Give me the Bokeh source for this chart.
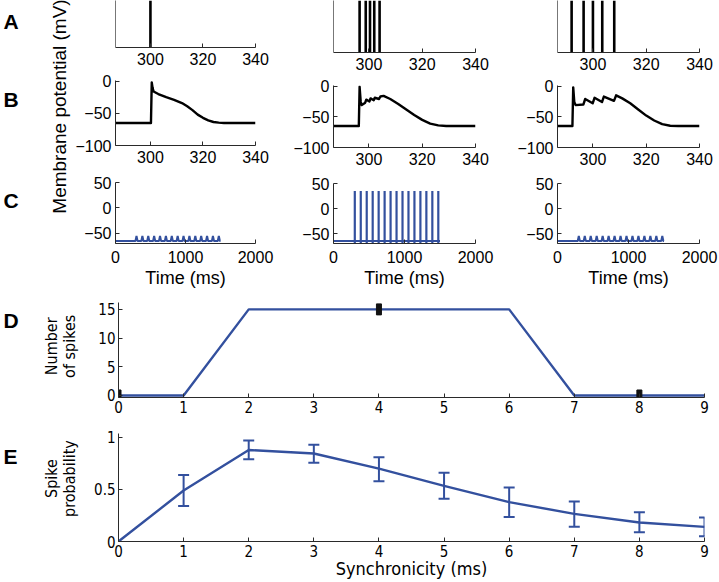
from bokeh.plotting import figure
from bokeh.layouts import row, column
from bokeh.models import Range1d, FixedTicker, Label, Whisker, TeeHead, ColumnDataSource
from bokeh.embed import file_html
from bokeh.resources import INLINE

# ---------------- data ----------------
# A: input arrival times (ms) for synchronicity 0, 4, 8 ms
a_times_sync0 = [300.0]
a_times_sync4 = [296.5, 298.8, 300.4, 302.0, 304.0]
a_times_sync8 = [292.0, 296.5, 300.0, 303.5, 308.0]

# B: membrane potential traces (ms, mV)
b_t_sync0 = [286.7, 300.2, 300.5, 300.8, 301.2, 303, 306, 309, 312, 314, 316, 318, 320, 322, 324, 326, 328, 332, 340]
b_v_sync0 = [-65, -65, -2, -10, -16, -20, -25, -29, -34, -39, -45, -52, -57, -61, -63.5, -64.5, -65, -65, -65]

b_t_sync4 = [286.7, 296.2, 296.5, 296.9, 297.3, 298.6, 299.0, 300.2, 300.6, 301.8, 302.2, 303.8, 304.3, 305.5, 308, 311, 314, 317, 320, 323, 326, 329, 340]
b_v_sync4 = [-65, -65, -1, -25, -31, -27, -22, -25, -20, -23, -19, -21, -17, -16, -21, -29, -38, -47, -55, -61, -64, -65, -65]

b_t_sync8 = [286.7, 292.3, 292.6, 293.0, 293.5, 296.4, 297.1, 299.9, 300.6, 303.4, 304.1, 307.9, 308.7, 311, 314, 317, 320, 323, 326, 329, 332, 340]
b_v_sync8 = [-65, -65, -2, -26, -31, -30, -21, -28, -19, -26, -17, -24, -15, -20, -28, -38, -48, -56, -62, -64.5, -65, -65]

# C: stimulus times (ms) of the 1.5 s trains
c_input_times = [300, 384, 468, 552, 636, 720, 804, 888, 972, 1056, 1140, 1224, 1308, 1392, 1476]
c_end_time = 1500
c_rest = -65
c_spike_peak = 35
c_spike_trough = -69
c_psp_peak = -55

# D: number of output spikes vs synchronicity
sync = [0, 1, 2, 3, 4, 5, 6, 7, 8, 9]
n_spikes = [0, 0, 15, 15, 15, 15, 15, 0, 0, 0]
marked_sync = [0, 4, 8]
marked_spikes = [0, 15, 0]

# E: spike probability (mean and error bar ends)
prob_mean = [0.0, 0.49, 0.88, 0.846, 0.70, 0.535, 0.378, 0.266, 0.183, 0.141]
prob_upper = [0.0, 0.64, 0.97, 0.93, 0.81, 0.66, 0.52, 0.385, 0.28, 0.23]
prob_lower = [0.0, 0.34, 0.79, 0.757, 0.58, 0.41, 0.235, 0.141, 0.09, 0.05]

# ---------------- style ----------------
BLUE = "#33509e"
AXIS = "#2a2a2a"
FONT = "Liberation Sans"
NARROW = "DejaVu Sans Condensed"
TOTAL_W = 719


def make_fig(w, h, xr, yr, bl, br, bt, bb, font=FONT, fsize="16px"):
    p = figure(width=w, height=h, x_range=Range1d(*xr), y_range=Range1d(*yr),
               output_backend="svg", toolbar_location=None, title=None,
               min_border_left=bl, min_border_right=br,
               min_border_top=bt, min_border_bottom=bb)
    p.grid.visible = False
    p.outline_line_color = None
    p.background_fill_color = "white"
    p.border_fill_color = "white"
    for ax in p.axis:
        ax.major_tick_in = 4
        ax.major_tick_out = 0
        ax.minor_tick_line_color = None
        ax.axis_line_color = AXIS
        ax.axis_line_width = 1
        ax.major_tick_line_color = AXIS
        ax.major_label_text_font = font
        ax.major_label_text_font_size = fsize
        ax.major_label_text_color = "black"
        ax.axis_label_text_font_style = "normal"
        ax.axis_label_text_color = "black"
    p.xaxis.major_label_standoff = 5
    p.yaxis.major_label_standoff = 4
    return p


def blank_fig(w, h):
    f = figure(width=w, height=h, x_range=Range1d(0, w), y_range=Range1d(0, h),
               output_backend="svg", toolbar_location=None, title=None,
               x_axis_type=None, y_axis_type=None,
               min_border_left=0, min_border_right=0, min_border_top=0, min_border_bottom=0)
    f.grid.visible = False
    f.outline_line_color = None
    f.background_fill_color = "white"
    f.border_fill_color = "white"
    return f


def letter(f, x, y, txt):
    f.add_layout(Label(x=x, y=y, text=txt, text_font=FONT, text_font_style="bold",
                       text_font_size="21px", text_align="left", text_baseline="middle",
                       text_color="black"))


def vtext(f, x, y, txt, font, size):
    f.add_layout(Label(x=x, y=y, text=txt, text_font=font, text_font_size=size, angle=90,
                       angle_units="deg", text_align="center", text_baseline="middle",
                       text_color="black"))


XR_AB = (286.7, 340)
XR_C = (0, 2000)
YR_B = (-100, 1)
YR_C = (-70, 50)
minus = {-50: "\u221250", -100: "\u2212100"}

TOP_H = 290   # rows A-C
STRIP_W = 72  # left label strip for A-C

# column geometry: figure x, width, frame left, heights / borders
cols = [
    dict(x=72, w=218, fx=113, fw=142, hA=71, fA=47, hB=99, tB=9, fB=65, hC=120, tC=12, fC=61,
         a=a_times_sync0, bt=b_t_sync0, bv=b_v_sync0, kind="psp"),
    dict(x=290, w=223, fx=333, fw=142, hA=76, fA=52, hB=96, tB=9, fB=62, hC=118, tC=11, fC=62,
         a=a_times_sync4, bt=b_t_sync4, bv=b_v_sync4, kind="spike"),
    dict(x=513, w=206, fx=557, fw=142, hA=76, fA=52, hB=96, tB=9, fB=62, hC=118, tC=11, fC=62,
         a=a_times_sync8, bt=b_t_sync8, bv=b_v_sync8, kind="psp"),
]

col_layouts = []
for c in cols:
    bl = c["fx"] - c["x"]
    br = c["w"] - bl - c["fw"]
    # ---- A: input raster ----
    pa = make_fig(c["w"], c["hA"], XR_AB, (0, 1), bl, br, 0, c["hA"] - c["fA"])
    pa.xaxis.ticker = FixedTicker(ticks=[300, 320, 340])
    pa.yaxis.ticker = FixedTicker(ticks=[])
    pa.yaxis.axis_line_color = "#777777"
    pa.segment(x0=c["a"], y0=[0] * len(c["a"]), x1=c["a"], y1=[1] * len(c["a"]),
               line_color="black", line_width=2.6)
    # ---- B: membrane potential ----
    pb = make_fig(c["w"], c["hB"], XR_AB, YR_B, bl, br, c["tB"], c["hB"] - c["tB"] - c["fB"])
    pb.xaxis.ticker = FixedTicker(ticks=[300, 320, 340])
    pb.yaxis.ticker = FixedTicker(ticks=[-100, -50, 0])
    pb.yaxis.major_label_overrides = minus
    pb.line(c["bt"], c["bv"], line_color="black", line_width=2.4, line_join="round")
    # ---- C: 2 s trace ----
    pc = make_fig(c["w"], c["hC"], XR_C, YR_C, bl, br, c["tC"], c["hC"] - c["tC"] - c["fC"])
    pc.xaxis.ticker = FixedTicker(ticks=[0, 1000, 2000])
    pc.yaxis.ticker = FixedTicker(ticks=[-50, 0, 50])
    pc.yaxis.major_label_overrides = minus
    pc.xaxis.major_label_standoff = 7
    pc.xaxis.axis_label = "Time (ms)"
    pc.xaxis.axis_label_text_font = FONT
    pc.xaxis.axis_label_text_font_size = "18px"
    pc.xaxis.axis_label_standoff = 2
    if c["kind"] == "spike":
        pc.line([0, c_end_time], [c_rest, c_rest], line_color=BLUE, line_width=2)
        n = len(c_input_times)
        pc.segment(x0=c_input_times, y0=[c_spike_trough] * n, x1=c_input_times,
                   y1=[c_spike_peak] * n, line_color=BLUE, line_width=2.2)
    else:
        xs, ys = [0], [c_rest]
        for t in c_input_times:
            xs += [t - 15, t, t + 15]
            ys += [c_rest, c_psp_peak, c_rest]
        xs.append(c_end_time)
        ys.append(c_rest)
        pc.line(xs, ys, line_color=BLUE, line_width=2)
    col_layouts.append(column(pa, pb, pc))

# ---- left label strip (A, B, C and shared y label); data y = 290 - page y ----
lf = blank_fig(STRIP_W, TOP_H)
letter(lf, 3, TOP_H - 21, "A")
letter(lf, 3, TOP_H - 99, "B")
letter(lf, 3, TOP_H - 200, "C")
vtext(lf, 59, TOP_H - 106, "Membrane potential (mV)", FONT, "19px")

top = row(lf, *col_layouts)

# ---- D / E geometry ----
XR_DE = (0, 9)
YR_D = (-0.35, 16.2)
YR_E = (0, 1.038)
FX, FW = 118, 586
STRIP = 80                 # label strip spans x 0..80
DW = TOTAL_W - STRIP       # 639
BL = FX - STRIP            # 38
BR = DW - BL - FW          # 15
D_Y, D_H, D_T, D_F = 290, 129, 12, 95
E_Y, E_H, E_T, E_F = D_Y + D_H, 163, 14, 108

# ---- D ----
ld = blank_fig(STRIP, D_H)          # data y = (D_Y + D_H) - page y
letter(ld, 3, D_Y + D_H - 315, "D")
d_mid = D_Y + D_T + D_F / 2
vtext(ld, 51, D_Y + D_H - d_mid, "Number", NARROW, "16px")
vtext(ld, 69, D_Y + D_H - d_mid, "of spikes", NARROW, "16px")

pd = make_fig(DW, D_H, XR_DE, YR_D, BL, BR, D_T, D_H - D_T - D_F, font=NARROW, fsize="15px")
pd.xaxis.ticker = FixedTicker(ticks=sync)
pd.yaxis.ticker = FixedTicker(ticks=[0, 5, 10, 15])
pd.xaxis.major_label_standoff = 3
pd.yaxis.major_label_standoff = 3
pd.line(sync, n_spikes, line_color=BLUE, line_width=2.4)
pd.rect(x=marked_sync, y=marked_spikes, width=5, height=11, width_units="screen",
        height_units="screen", fill_color="#111111", line_color="#111111")

# ---- E ----
e_frame_top = E_Y + E_T
le = blank_fig(STRIP, E_H)          # data y = (E_Y + E_H) - page y
letter(le, 3, E_Y + E_H - 454, "E")
e_mid = e_frame_top + E_F / 2
vtext(le, 51, E_Y + E_H - e_mid, "Spike", NARROW, "16px")
vtext(le, 69, E_Y + E_H - e_mid, "probability", NARROW, "16px")

pe = make_fig(DW, E_H, XR_DE, YR_E, BL, BR, E_T, E_H - E_T - E_F, font=NARROW, fsize="15px")
pe.xaxis.ticker = FixedTicker(ticks=sync)
pe.yaxis.ticker = FixedTicker(ticks=[0, 0.5, 1])
pe.yaxis.major_label_overrides = {0: "0", 0.5: "0.5", 1: "1"}
pe.xaxis.major_label_standoff = 3
pe.yaxis.major_label_standoff = 3
pe.xaxis.axis_label = "Synchronicity (ms)"
pe.xaxis.axis_label_text_font = NARROW
pe.xaxis.axis_label_text_font_size = "18px"
pe.xaxis.axis_label_standoff = -2
src = ColumnDataSource(dict(x=sync[1:], up=prob_upper[1:], lo=prob_lower[1:]))
pe.add_layout(Whisker(source=src, base="x", upper="up", lower="lo", line_color=BLUE, line_width=2,
                      upper_head=TeeHead(size=11, line_color=BLUE, line_width=2),
                      lower_head=TeeHead(size=11, line_color=BLUE, line_width=2)))
pe.line(sync, prob_mean, line_color=BLUE, line_width=2.4)

layout = column(top, row(ld, pd), row(le, pe))

open("out.html", "w").write(file_html(layout, INLINE))
